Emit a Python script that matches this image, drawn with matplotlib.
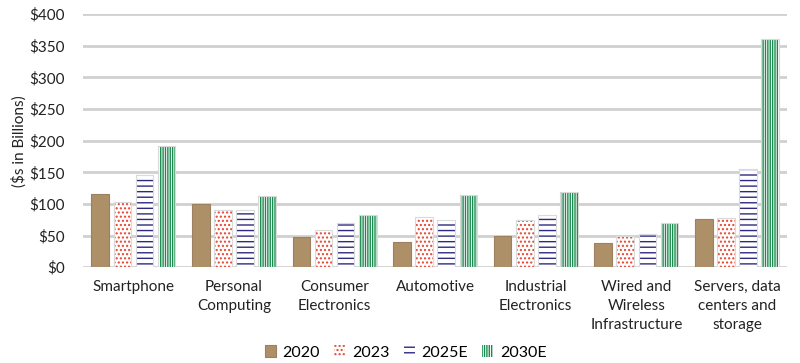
import matplotlib
matplotlib.use("Agg")
import matplotlib.pyplot as plt
import numpy as np

categories = ["Smartphone", "Personal\nComputing", "Consumer\nElectronics", "Automotive",
              "Industrial\nElectronics", "Wired and\nWireless\nInfrastructure",
              "Servers, data\ncenters and\nstorage"]
series_names = ["2020", "2023", "2025E", "2030E"]
v2020 = [116, 100, 48, 39, 49, 38, 76]
v2023 = [103, 90, 59, 79, 74, 49, 78]
v2025 = [146, 91, 70, 74, 82, 52, 155]
v2030 = [192, 112, 83, 114, 119, 70, 361]
yticks = [0, 50, 100, 150, 200, 250, 300, 350, 400]

plt.rcParams['font.family'] = ['Lato', 'DejaVu Sans']
plt.rcParams['hatch.linewidth'] = 1.0

fig = plt.figure(figsize=(8, 3.63), dpi=100)
ax = fig.add_axes([0.104, 0.264, 0.88, 0.697])

x = np.arange(len(categories))
step = 0.22
width = 0.175
styles = [
    dict(facecolor="#AD8F68", edgecolor="#9C8060", hatch=None, linewidth=0.8),
    dict(facecolor="white", edgecolor="#E8412C", hatch="....", linewidth=0),
    dict(facecolor="white", edgecolor="#2E2A80", hatch="---", linewidth=0),
    dict(facecolor="white", edgecolor="#1B8A4E", hatch="|||||||", linewidth=0),
]
data = [v2020, v2023, v2025, v2030]
for i, (vals, st, name) in enumerate(zip(data, styles, series_names)):
    pos = x + (i - 1.5) * step
    ax.bar(pos, vals, width, label=name, zorder=3, **st)
    if i > 0:
        ax.bar(pos, vals, width, fill=False, edgecolor="#DADADA", linewidth=0.8,
               zorder=4, label="_nolegend_")

ax.set_xlim(-0.5, len(categories) - 0.5)
ax.set_ylim(0, 400)
ax.set_yticks(yticks)
ax.set_yticklabels([f"${t}" for t in yticks], fontsize=11, color="#222222")
ax.set_xticks(x)
ax.set_xticklabels(categories, fontsize=11, color="#222222", linespacing=1.45)
ax.tick_params(axis='x', length=0, pad=9)
ax.tick_params(axis='y', length=0, pad=13)
ax.grid(axis='y', color="#D0D0D0", linewidth=2, zorder=0)
for s in ax.spines.values():
    s.set_visible(False)
ax.set_ylabel("($s in Billions)", fontsize=11, color="#222222", labelpad=2)

leg = fig.legend(loc="lower center", bbox_to_anchor=(0.507, -0.03), ncol=4, frameon=False,
                 fontsize=11.5, handlelength=0.7, handleheight=0.7, handletextpad=0.4,
                 columnspacing=0.9)

fig.savefig("out.png", dpi=100)
